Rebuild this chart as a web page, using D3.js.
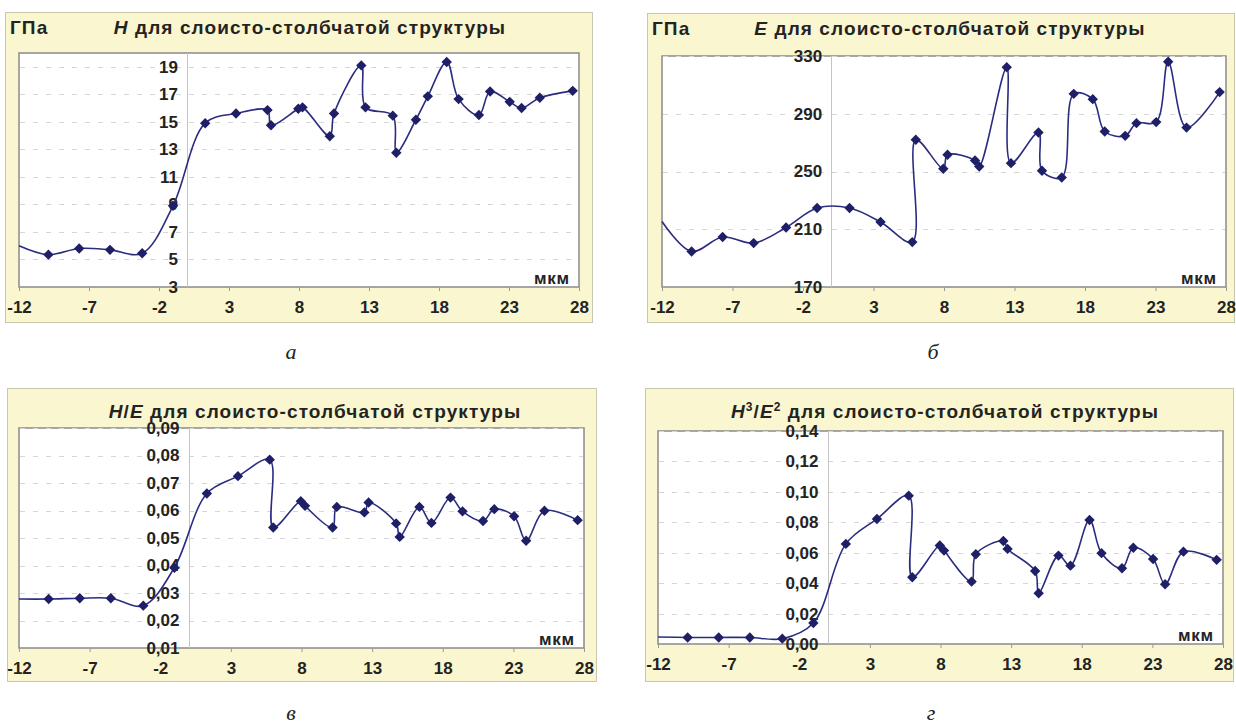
<!DOCTYPE html>
<html lang="ru">
  <head>
    <meta charset="utf-8">
    <title>Слоисто-столбчатая структура</title>
    <style type="text/css">
body {
  margin: 0;
  background: #fff;
}

svg {
  font-family: "Liberation Sans", Arial, sans-serif;
  font-weight: bold;
}

.frame {
  fill: #faf6cf;
  stroke: #c9c7b0;
}

.plot-bg {
  fill: #fff;
  stroke: #8a8a8a;
  stroke-width: 1.5px;
}

.grid line {
  stroke: #d6d6d6;
  stroke-dasharray: 5, 8;
}

.zero-line {
  stroke: #c4c4c4;
}

.series {
  fill: none;
  stroke: #2b2c80;
  stroke-width: 1.6px;
}

.marker {
  fill: #1e1f66;
}

.tick-label, .title, .units, .mkm {
  fill: #232323;
}

.title, .units {
  letter-spacing: 1.1px;
}

.mkm {
  letter-spacing: 0.8px;
}

.caption {
  font-family: "Liberation Serif", "DejaVu Serif", serif;
  font-style: italic;
  font-weight: normal;
  font-size: 22px;
  fill: #222;
}
    </style>
  </head>

  <body>
    <div id="mainCanvas"></div>

    <script src="https://cdn.jsdelivr.net/npm/d3@7"></script>
    <script>
      // depth positions (мкм), shared by all four charts; the first one is the line start at the axis
      var depth = [-12, -9.9, -7.7, -5.5, -3.2, -1.0, 1.3, 3.5, 5.75, 6.0, 7.95, 8.25, 10.2, 10.5,
                   12.45, 12.75, 14.7, 14.95, 16.35, 17.2, 18.55, 19.4, 20.85, 21.65, 23.05, 23.9, 25.2, 27.55];

      var hardness = [6.0, 5.35, 5.8, 5.7, 5.45, 8.9, 14.9, 15.6, 15.85, 14.75, 15.95, 16.05, 13.95, 15.6,
                      19.1, 16.05, 15.45, 12.75, 15.15, 16.85, 19.35, 16.65, 15.5, 17.2, 16.45, 16.0, 16.75, 17.25];

      var modulus = [215.4, 194.6, 204.6, 200.4, 211.2, 224.7, 224.7, 215.0, 201.1, 272.0, 251.9, 261.6, 257.6, 253.5,
                     322.2, 255.8, 277.0, 250.5, 245.8, 303.8, 300.1, 277.7, 274.7, 283.5, 284.2, 326.0, 280.4, 305.0];

      var ratioHE = [0.0278, 0.0278, 0.0281, 0.0281, 0.0254, 0.0392, 0.0662, 0.0725, 0.0785, 0.0538, 0.0634, 0.0617, 0.0538, 0.0613,
                     0.0593, 0.0629, 0.0553, 0.0504, 0.0613, 0.0555, 0.0647, 0.0597, 0.0562, 0.0605, 0.0579, 0.049, 0.0599, 0.0565];

      var ratioH3E2 = [0.0046, 0.0043, 0.0043, 0.0043, 0.0035, 0.0138, 0.0658, 0.0822, 0.0975, 0.0439, 0.0647, 0.0614, 0.041, 0.059,
                       0.0677, 0.0625, 0.048, 0.0334, 0.0581, 0.0515, 0.0815, 0.0597, 0.0498, 0.0633, 0.0559, 0.0393, 0.0607, 0.0553];

      var xTicks = [-12, -7, -2, 3, 8, 13, 18, 23, 28];
      var ticksH = [3, 5, 7, 9, 11, 13, 15, 17, 19];
      var ticksE = [170, 210, 250, 290, 330];
      var ticksHE = [0.01, 0.02, 0.03, 0.04, 0.05, 0.06, 0.07, 0.08, 0.09];
      var ticksH3E2 = [0, 0.02, 0.04, 0.06, 0.08, 0.10, 0.12, 0.14];

      var comma2 = function(d) { return d3.format(".2f")(d).replace(".", ","); };

      var panels = [
        { values: hardness, yDomain: [3, 20], yTicks: ticksH, fmt: d3.format("d"),
          frame: {x: 5, y: 12, w: 587, h: 310}, plot: {l: 19, t: 53, r: 579, b: 287},
          title: [["H", true], [" для слоисто-столбчатой структуры", false]], titleX: 310, titleY: 34,
          units: true, caption: "а", capX: 291, capY: 359 },
        { values: modulus, yDomain: [170, 330], yTicks: ticksE, fmt: d3.format("d"),
          frame: {x: 647, y: 13, w: 587, h: 309}, plot: {l: 662, t: 56, r: 1226, b: 287},
          title: [["E", true], [" для слоисто-столбчатой структуры", false]], titleX: 950, titleY: 35,
          units: true, caption: "б", capX: 933, capY: 359 },
        { values: ratioHE, yDomain: [0.01, 0.09], yTicks: ticksHE, fmt: comma2,
          frame: {x: 7, y: 388, w: 589, h: 293}, plot: {l: 19, t: 428, r: 584, b: 648},
          title: [["H", true], ["/", false], ["E", true], [" для слоисто-столбчатой структуры", false]], titleX: 315, titleY: 418,
          units: false, caption: "в", capX: 291, capY: 720 },
        { values: ratioH3E2, yDomain: [0, 0.14], yTicks: ticksH3E2, fmt: comma2,
          frame: {x: 645, y: 388, w: 588, h: 293}, plot: {l: 658, t: 431, r: 1223, b: 644},
          title: [["H", true], ["3", "sup"], ["/", false], ["E", true], ["2", "sup"], [" для слоисто-столбчатой структуры", false]],
          titleX: 945, titleY: 418, units: false, caption: "г", capX: 931, capY: 720 }
      ];

      var svg = d3.select("#mainCanvas").append("svg")
          .attr("width", 1236)
          .attr("height", 725);

      var diamond = "M0,-5.2L5.2,0L0,5.2L-5.2,0Z";

      panels.forEach(function(p, k) {
        var x = d3.scaleLinear().domain([-12, 28]).range([p.plot.l, p.plot.r]);
        var y = d3.scaleLinear().domain(p.yDomain).range([p.plot.b, p.plot.t]);
        var g = svg.append("g");

        g.append("rect").attr("class", "frame")
            .attr("x", p.frame.x + 0.5).attr("y", p.frame.y + 0.5)
            .attr("width", p.frame.w).attr("height", p.frame.h);

        g.append("rect").attr("class", "plot-bg")
            .attr("x", p.plot.l).attr("y", p.plot.t)
            .attr("width", p.plot.r - p.plot.l).attr("height", p.plot.b - p.plot.t);

        // dashed horizontal grid
        g.append("g").attr("class", "grid")
          .selectAll("line")
          .data(p.yTicks.filter(function(d) { return d !== p.yDomain[0]; }))
          .enter().append("line")
            .attr("x1", p.plot.l + 1).attr("x2", p.plot.r - 1)
            .attr("y1", function(d) { return Math.round(y(d)) + 0.5; })
            .attr("y2", function(d) { return Math.round(y(d)) + 0.5; });

        // vertical axis sits at x = 0
        g.append("line").attr("class", "zero-line")
            .attr("x1", Math.round(x(0)) + 0.5).attr("x2", Math.round(x(0)) + 0.5)
            .attr("y1", p.plot.t).attr("y2", p.plot.b);

        var xAxis = d3.axisBottom(x).tickValues(xTicks).tickSize(4).tickSizeOuter(0).tickFormat(d3.format("d"));
        var ax = g.append("g")
            .attr("transform", "translate(0," + p.plot.b + ")")
            .call(xAxis);
        ax.select(".domain").remove();
        ax.selectAll("line").attr("stroke", "#9a9a9a");
        ax.selectAll("text")
            .attr("class", "tick-label")
            .attr("y", 14)
            .attr("fill", null)
            .style("font-size", "17px")
            .style("font-family", "'Liberation Sans', Arial, sans-serif")
            .text(function(d) { return String(d).replace("−", "-"); });

        var yAxis = d3.axisLeft(y).tickValues(p.yTicks).tickSize(0).tickFormat(p.fmt);
        var ay = g.append("g")
            .attr("transform", "translate(" + x(0) + ",0)")
            .call(yAxis);
        ay.select(".domain").remove();
        ay.selectAll("text")
            .attr("class", "tick-label")
            .attr("x", -9)
            .attr("fill", null)
            .style("font-size", "17px")
            .style("font-family", "'Liberation Sans', Arial, sans-serif");

        // series: smoothed line like the spreadsheet, markers on measured points
        var pts = depth.map(function(d, i) { return {x: d, y: p.values[i]}; });
        var line = d3.line()
            .x(function(d) { return x(d.x); })
            .y(function(d) { return y(d.y); })
            .curve(d3.curveCatmullRom.alpha(0.5));

        g.append("path").attr("class", "series").attr("d", line(pts));

        g.append("g").selectAll("path")
          .data(pts.slice(1))
          .enter().append("path")
            .attr("class", "marker")
            .attr("d", diamond)
            .attr("transform", function(d) { return "translate(" + x(d.x) + "," + y(d.y) + ")"; });

        // title with italic letters and superscripts
        var title = g.append("text").attr("class", "title")
            .attr("x", p.titleX).attr("y", p.titleY)
            .attr("text-anchor", "middle")
            .style("font-size", "19px");
        var raised = false;
        p.title.forEach(function(part) {
          var s = title.append("tspan").text(part[0]);
          if (part[1] === true) s.style("font-style", "italic");
          if (part[1] === "sup") {
            s.attr("dy", -7).style("font-size", "12px");
            raised = true;
          } else if (raised) {
            s.attr("dy", 7);
            raised = false;
          }
        });

        if (p.units) {
          g.append("text").attr("class", "units")
              .attr("x", p.frame.x + 5).attr("y", p.titleY)
              .style("font-size", "19px")
              .text("ГПа");
        }

        g.append("text").attr("class", "mkm")
            .attr("x", p.plot.r - 9).attr("y", p.plot.b - 3)
            .attr("text-anchor", "end")
            .style("font-size", "17px")
            .text("мкм");

        svg.append("text").attr("class", "caption")
            .attr("x", p.capX).attr("y", p.capY)
            .attr("text-anchor", "middle")
            .text(p.caption);
      });
    </script>
  </body>
</html>
